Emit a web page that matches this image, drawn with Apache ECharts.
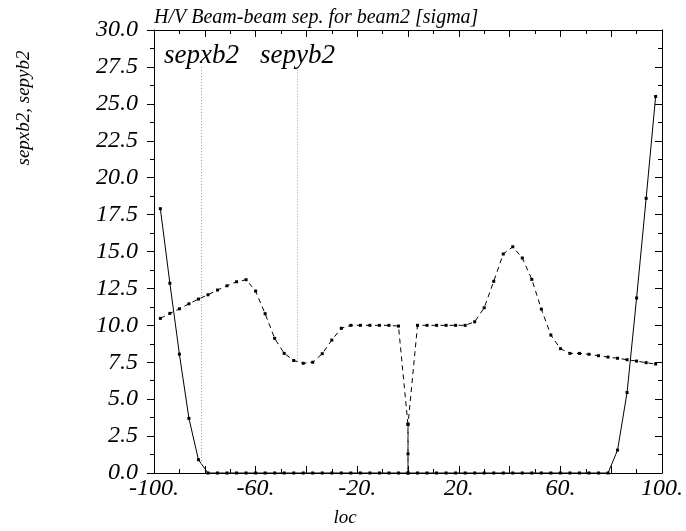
<!DOCTYPE html>
<html>
<head>
<meta charset="utf-8">
<script src="https://cdn.jsdelivr.net/npm/echarts@6/dist/echarts.min.js"></script>
<style>
  html, body { margin: 0; padding: 0; background: #fff; }
  #chart { width: 686px; height: 531px; }
</style>
</head>
<body>
<div id="chart"></div>
<script>
// Longitudinal positions (m) of the optics points
const locX = [
  -97.5, -93.75, -90, -86.25, -82.5, -78.75, -75, -71.25, -67.5, -63.75,
  -60, -56.25, -52.5, -48.75, -45, -41.25, -37.5, -33.75, -30, -26.25,
  -22.5, -18.75, -15, -11.25, -7.5, -3.75, 0, 3.75, 7.5, 11.25,
  15, 18.75, 22.5, 26.25, 30, 33.75, 37.5, 41.25, 45, 48.75,
  52.5, 56.25, 60, 63.75, 67.5, 71.25, 75, 78.75, 82.5, 86.25,
  90, 93.75, 97.5
];
// Horizontal separation of beam 2 [sigma]
const sepxb2 = [
  17.9, 12.85, 8.05, 3.7, 0.9, 0, 0, 0, 0, 0,
  0, 0, 0, 0, 0, 0, 0, 0, 0, 0,
  0, 0, 0, 0, 0, 0, 0, 0, 0, 0,
  0, 0, 0, 0, 0, 0, 0, 0, 0, 0,
  0, 0, 0, 0, 0, 0, 0, 0, 1.55, 5.45,
  11.85, 18.6, 25.5
];
// Positions for the vertical separation (extra points at the IP)
const locY = [
  -97.5, -93.75, -90, -86.25, -82.5, -78.75, -75, -71.25, -67.5, -63.75,
  -60, -56.25, -52.5, -48.75, -45, -41.25, -37.5, -33.75, -30, -26.25,
  -22.5, -18.75, -15, -11.25, -7.5, -3.75, -0.02, 0, 0, 0.02,
  3.75, 7.5, 11.25, 15, 18.75, 22.5, 26.25, 30, 33.75, 37.5,
  41.25, 45, 48.75, 52.5, 56.25, 60, 63.75, 67.5, 71.25, 75,
  78.75, 82.5, 86.25, 90, 93.75, 97.5
];
// Vertical separation of beam 2 [sigma]
const sepyb2 = [
  10.47, 10.81, 11.12, 11.46, 11.78, 12.07, 12.39, 12.68, 12.95, 13.09,
  12.32, 10.79, 9.12, 8.1, 7.62, 7.43, 7.5, 8.08, 9.0, 9.8,
  10.0, 10.0, 10.0, 10.0, 10.0, 9.95, 3.3, 1.3, 0, 3.3,
  10.0, 10.0, 10.0, 10.0, 10.0, 10.0, 10.24, 11.19, 12.98, 14.83,
  15.32, 14.56, 13.11, 11.1, 9.34, 8.42, 8.1, 8.1, 8.04, 7.94,
  7.85, 7.77, 7.67, 7.58, 7.47, 7.38
];
// Curve name tags with their leader positions: [label, loc, value on curve]
const tagNames = ['sepxb2', 'sepyb2'];
const tagLoc = [-81.3, -43.5];
const tagValue = [0.6, 7.55];
const tagTop = 27.55;
// Labelled x ticks
const xLabelTicks = [-100, -60, -20, 20, 60, 100];

const FONT = '"Liberation Serif", "DejaVu Serif", serif';
const chart = echarts.init(document.getElementById('chart'));

const pairs = (xs, ys) => xs.map((x, i) => [x, ys[i]]);

const leader = (i) => ({
  silent: true,
  symbol: 'none',
  lineStyle: { color: '#9a9a9a', type: [1, 2], width: 1 },
  label: {
    show: true, position: 'end', distance: -3,
    formatter: tagNames[i],
    fontFamily: FONT, fontStyle: 'italic', fontSize: 27, color: '#000'
  },
  data: [[{ coord: [tagLoc[i], tagValue[i]] }, { coord: [tagLoc[i], tagTop] }]]
});

const frameAxis = {
  show: true, onZero: false, lineStyle: { color: '#000', width: 1 }
};
const majorTick = (inside) => ({
  show: true, inside: inside, length: 7, lineStyle: { color: '#000' }
});
const minorTicks = {
  show: true, splitNumber: 2, length: 4, lineStyle: { color: '#000' }
};

chart.setOption({
  animation: false,
  backgroundColor: '#fff',
  grid: { left: 154, right: 23, top: 30, bottom: 58 },
  xAxis: [
    {
      type: 'value', min: -100, max: 100, interval: 20, position: 'bottom',
      axisLine: frameAxis,
      axisTick: majorTick(true),
      minorTick: minorTicks,
      splitLine: { show: false },
      axisLabel: {
        margin: 4,
        fontFamily: FONT, fontStyle: 'italic', fontSize: 24, color: '#000',
        formatter: v => xLabelTicks.indexOf(v) >= 0 ? v + '.' : ''
      }
    },
    {
      type: 'value', min: -100, max: 100, interval: 20, position: 'top',
      axisLine: frameAxis,
      axisTick: majorTick(true),
      minorTick: minorTicks,
      splitLine: { show: false },
      axisLabel: { show: false }
    }
  ],
  yAxis: [
    {
      type: 'value', min: 0, max: 30, interval: 2.5, position: 'left',
      axisLine: frameAxis,
      axisTick: majorTick(false),
      minorTick: minorTicks,
      splitLine: { show: false },
      axisLabel: {
        margin: 16,
        fontFamily: FONT, fontStyle: 'italic', fontSize: 24, color: '#000',
        formatter: v => v.toFixed(1)
      }
    },
    {
      type: 'value', min: 0, max: 30, interval: 2.5, position: 'right',
      axisLine: frameAxis,
      axisTick: majorTick(true),
      minorTick: minorTicks,
      splitLine: { show: false },
      axisLabel: { show: false }
    }
  ],
  series: [
    {
      name: 'sepxb2', type: 'line',
      data: pairs(locX, sepxb2),
      symbol: 'rect', symbolSize: 3, showAllSymbol: true,
      itemStyle: { color: '#000' },
      lineStyle: { color: '#000', width: 1, type: 'solid' },
      markLine: leader(0)
    },
    {
      name: 'sepyb2', type: 'line',
      data: pairs(locY, sepyb2),
      symbol: 'rect', symbolSize: 3, showAllSymbol: true,
      itemStyle: { color: '#000' },
      lineStyle: { color: '#000', width: 1, type: [5, 4] },
      markLine: leader(1)
    }
  ],
  graphic: [
    {
      type: 'text', left: 154, top: 8,
      style: {
        text: 'H/V Beam-beam sep. for beam2 [sigma]',
        font: 'italic 20px ' + FONT, fill: '#000'
      }
    },
    {
      type: 'text', x: 345, y: 518,
      style: {
        text: 'loc', font: 'italic 19px ' + FONT, fill: '#000',
        align: 'center', verticalAlign: 'middle'
      }
    },
    {
      type: 'text', x: 24, y: 108, rotation: Math.PI / 2,
      style: {
        text: 'sepxb2, sepyb2', font: 'italic 19px ' + FONT, fill: '#000',
        align: 'center', verticalAlign: 'middle'
      }
    }
  ]
});
</script>
</body>
</html>
